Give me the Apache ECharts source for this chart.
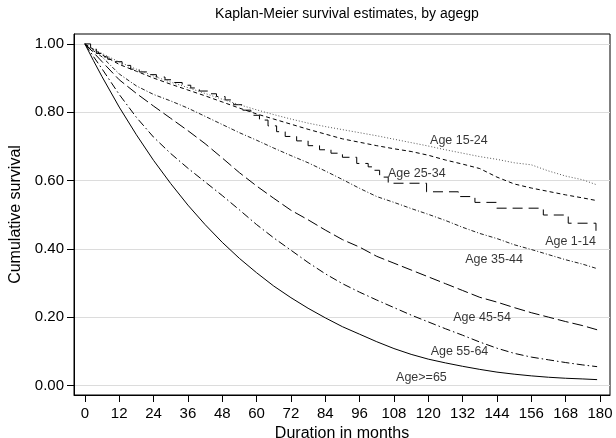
<!DOCTYPE html>
<html>
<head>
<meta charset="utf-8">
<script src="https://cdn.jsdelivr.net/npm/echarts@6/dist/echarts.min.js"></script>
<style>
  html, body { margin: 0; padding: 0; background: #fff; }
  #chart { width: 616px; height: 438px; }
</style>
</head>
<body>
<div id="chart"></div>
<script>
// Kaplan-Meier survival curves by age group (months 0-180)
const months = [0, 3, 6, 12, 18, 24, 30, 36, 42, 48, 54, 60, 66, 72, 78, 84, 90, 96, 102, 108, 114, 120, 126, 132, 138, 144, 150, 156, 162, 168, 174, 179];

const age15_24 = [1, 0.985, 0.972, 0.947, 0.926, 0.906, 0.888, 0.872, 0.855, 0.838, 0.822, 0.807, 0.793, 0.78, 0.768, 0.758, 0.749, 0.74, 0.731, 0.721, 0.711, 0.701, 0.69, 0.68, 0.67, 0.662, 0.652, 0.646, 0.628, 0.613, 0.602, 0.587];
const age25_34 = [1, 0.984, 0.968, 0.94, 0.92, 0.9, 0.882, 0.865, 0.848, 0.83, 0.812, 0.795, 0.78, 0.765, 0.75, 0.736, 0.722, 0.712, 0.702, 0.693, 0.685, 0.674, 0.66, 0.648, 0.635, 0.61, 0.59, 0.578, 0.568, 0.558, 0.549, 0.541];
const age35_44 = [1, 0.98, 0.962, 0.912, 0.877, 0.852, 0.833, 0.812, 0.788, 0.764, 0.74, 0.718, 0.695, 0.673, 0.652, 0.628, 0.603, 0.577, 0.553, 0.536, 0.518, 0.501, 0.483, 0.463, 0.445, 0.43, 0.412, 0.398, 0.383, 0.368, 0.355, 0.342];
const age45_54 = [1, 0.975, 0.948, 0.895, 0.855, 0.818, 0.782, 0.746, 0.708, 0.666, 0.623, 0.584, 0.548, 0.513, 0.485, 0.455, 0.427, 0.405, 0.378, 0.358, 0.338, 0.318, 0.298, 0.278, 0.258, 0.244, 0.228, 0.213, 0.2, 0.187, 0.175, 0.163];
const age55_64 = [1, 0.963, 0.927, 0.852, 0.785, 0.727, 0.679, 0.636, 0.596, 0.556, 0.514, 0.471, 0.432, 0.396, 0.36, 0.327, 0.298, 0.273, 0.25, 0.228, 0.206, 0.186, 0.166, 0.147, 0.127, 0.109, 0.094, 0.083, 0.075, 0.067, 0.06, 0.055];
const age65plus = [1, 0.951, 0.904, 0.815, 0.734, 0.659, 0.591, 0.528, 0.471, 0.419, 0.372, 0.33, 0.291, 0.257, 0.226, 0.198, 0.172, 0.15, 0.128, 0.108, 0.091, 0.077, 0.066, 0.056, 0.047, 0.039, 0.033, 0.028, 0.024, 0.021, 0.019, 0.017];

// Age 1-14 is a small group: its estimate is drawn as visible steps
const age1_14Times = [0, 2, 4, 6, 8, 10, 13, 16, 19, 22, 25, 28, 31, 34, 37, 40, 43, 46, 49, 52, 55, 58, 61, 64, 67, 70, 74, 78, 82, 86, 90, 95, 99, 101, 103, 106, 119.4, 130.5, 136.3, 143.9, 160.2, 168.9, 178.6];
const age1_14 = [1, 0.985, 0.972, 0.962, 0.955, 0.948, 0.937, 0.926, 0.918, 0.91, 0.903, 0.895, 0.887, 0.879, 0.871, 0.862, 0.854, 0.846, 0.836, 0.822, 0.806, 0.791, 0.777, 0.76, 0.743, 0.729, 0.716, 0.702, 0.69, 0.68, 0.668, 0.65, 0.64, 0.63, 0.61, 0.592, 0.567, 0.553, 0.536, 0.519, 0.499, 0.475, 0.44];

// Curve labels placed in data coordinates
const labelNames  = ['Age 15-24', 'Age 25-34', 'Age 1-14', 'Age 35-44', 'Age 45-54', 'Age 55-64', 'Age>=65'];
const labelMonths = [130.7, 116.0, 169.7, 143.0, 138.8, 130.9, 117.6];
const labelValues = [0.716, 0.619, 0.42, 0.369, 0.20, 0.098, 0.024];

const xTicks = [0, 12, 24, 36, 48, 60, 72, 84, 96, 108, 120, 132, 144, 156, 168, 180];
const yTicks = [0, 0.2, 0.4, 0.6, 0.8, 1.0];

const FONT = '"Liberation Sans", Arial, Helvetica, sans-serif';

function pairs(xs, ys) { return xs.map((x, i) => [x, ys[i]]); }

function curve(name, xs, ys, dash, color, step) {
  return {
    name: name,
    type: 'line',
    data: pairs(xs, ys),
    symbol: 'none',
    step: step || false,
    smooth: false,
    lineStyle: { color: color || '#000', width: 1, type: dash },
    z: 3
  };
}

const chart = echarts.init(document.getElementById('chart'), null, { renderer: 'canvas' });

chart.setOption({
  animation: false,
  backgroundColor: '#fff',
  title: {
    text: 'Kaplan-Meier survival estimates, by agegp',
    left: 342, top: 2, textAlign: 'center',
    textStyle: { fontFamily: FONT, fontSize: 14, fontWeight: 'normal', color: '#000' }
  },
  grid: {
    left: 74, right: 6, top: 34, bottom: 43,
    outerBoundsMode: 'none',
    containLabel: false,
    show: true, borderColor: '#000', borderWidth: 1, backgroundColor: 'transparent'
  },
  xAxis: {
    type: 'value',
    min: -3.8, max: 183.5,
    name: 'Duration in months',
    nameLocation: 'middle', nameGap: 22,
    nameTextStyle: { fontFamily: FONT, fontSize: 16, color: '#000' },
    axisLine: { show: true, onZero: false, lineStyle: { color: '#000', width: 1 } },
    axisTick: { show: true, length: 7, customValues: xTicks, lineStyle: { color: '#000' } },
    axisLabel: { customValues: xTicks, margin: 11, fontFamily: FONT, fontSize: 15, color: '#000', showMinLabel: true, showMaxLabel: true },
    splitLine: { show: false }
  },
  yAxis: {
    type: 'value',
    min: -0.028, max: 1.029,
    name: 'Cumulative survival',
    nameLocation: 'middle', nameGap: 47,
    nameTextStyle: { fontFamily: FONT, fontSize: 16, color: '#000' },
    axisLine: { show: true, onZero: false, lineStyle: { color: '#000', width: 1 } },
    axisTick: { show: true, length: 7, customValues: yTicks, lineStyle: { color: '#000' } },
    axisLabel: { customValues: yTicks, margin: 10, fontFamily: FONT, fontSize: 15, color: '#000',
                 formatter: v => v.toFixed(2) },
    splitLine: { show: true, lineStyle: { color: '#dcdcdc', width: 1 } }
  },
  series: [
    curve('Age 1-14', age1_14Times, age1_14, [10, 6], '#000', 'end'),
    curve('Age 15-24', months, age15_24, [1, 2], '#555'),
    curve('Age 25-34', months, age25_34, [4, 3], '#000'),
    curve('Age 35-44', months, age35_44, [4, 2, 1, 2], '#222'),
    curve('Age 45-54', months, age45_54, [11, 4], '#000'),
    curve('Age 55-64', months, age55_64, [8, 3, 1.5, 3], '#000'),
    curve('Age>=65', months, age65plus, 'solid', '#000'),
    {
      name: 'curve labels',
      type: 'scatter',
      symbolSize: 0,
      data: labelNames.map((n, i) => ({ name: n, value: [labelMonths[i], labelValues[i]] })),
      label: {
        show: true, position: 'inside', formatter: p => p.name,
        fontFamily: FONT, fontSize: 12.5, color: '#000'
      },
      z: 5
    }
  ]
});
</script>
</body>
</html>
